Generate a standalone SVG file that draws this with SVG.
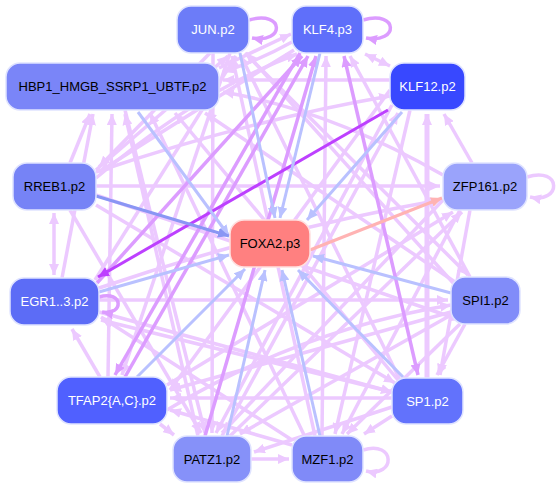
<svg xmlns="http://www.w3.org/2000/svg" width="557" height="489" viewBox="0 0 557 489">
<defs>
<style>
.e{fill:none;stroke-width:3.5}
.p{stroke:#ecc9ff}
.m{stroke:#dc9cff}
.s{stroke:#bd40ff;stroke-width:3}
.b{stroke:#b9c1ff;stroke-width:3}
.db{stroke:#8a96f4;stroke-width:3}
.r{stroke:#ffb3b3;stroke-width:3}
.n rect{stroke:#dfe3ff;stroke-width:1.5}
.n text{font-family:"Liberation Sans",Arial,sans-serif;font-size:13px;text-anchor:middle}
.w{fill:#ffffff}
.k{fill:#000000}
</style>
<marker id="ap" markerUnits="userSpaceOnUse" markerWidth="12" markerHeight="10" refX="11" refY="5" orient="auto-start-reverse"><path d="M0,0 L11,5 L0,10 z" fill="#ecc9ff"/></marker>
<marker id="am" markerUnits="userSpaceOnUse" markerWidth="12" markerHeight="10" refX="11" refY="5" orient="auto-start-reverse"><path d="M0,0 L11,5 L0,10 z" fill="#dc9cff"/></marker>
<marker id="as" markerUnits="userSpaceOnUse" markerWidth="12" markerHeight="10" refX="11" refY="5" orient="auto-start-reverse"><path d="M0,0 L11,5 L0,10 z" fill="#bd40ff"/></marker>
<marker id="ab" markerUnits="userSpaceOnUse" markerWidth="12" markerHeight="10" refX="11" refY="5" orient="auto-start-reverse"><path d="M0,0 L11,5 L0,10 z" fill="#b9c1ff"/></marker>
<marker id="adb" markerUnits="userSpaceOnUse" markerWidth="12" markerHeight="10" refX="11" refY="5" orient="auto-start-reverse"><path d="M0,0 L11,5 L0,10 z" fill="#8a96f4"/></marker>
<marker id="ar" markerUnits="userSpaceOnUse" markerWidth="12" markerHeight="10" refX="11" refY="5" orient="auto-start-reverse"><path d="M0,0 L11,5 L0,10 z" fill="#ffb3b3"/></marker>
</defs>
<rect width="557" height="489" fill="#ffffff"/>
<g id="edges">
<g class="e p" marker-end="url(#ap)">
<path d="M390,80 L223,80"/>
<path d="M443,175 Q330,110 223,92"/>
<path d="M455,282 L205,113"/>
<path d="M398,380 L175,113"/>
<path d="M305,437 L150,113"/>
<path d="M198,436 L125,114"/>
<path d="M108,377 L112,114"/>
<path d="M62,278 L93,114"/>
<path d="M70,163 L90,114"/>
<path d="M292,42 Q260,60 223,72"/>
<path d="M96,170 L228,56"/>
<path d="M95,280 L236,56"/>
<path d="M455,285 L246,53"/>
<path d="M400,380 L241,56"/>
<path d="M315,436 L232,56"/>
<path d="M219,68 L291,34"/>
<path d="M96,178 Q200,90 297,54"/>
<path d="M322,436 L326,56"/>
<path d="M470,277 L350,56"/>
<path d="M427,378 L427,114" style="stroke-width:5"/>
<path d="M472,163 L444,114"/>
<path d="M96,172 Q250,120 390,96"/>
<path d="M96,186 L440,186"/>
<path d="M99,288 Q270,230 440,200"/>
<path d="M99,300 L448,300"/>
<path d="M245,53 L468,275"/>
<path d="M470,210 L440,375"/>
<path d="M465,324 L437,375"/>
<path d="M96,205 L395,383"/>
<path d="M99,312 L392,392"/>
<path d="M392,398 L170,398"/>
<path d="M451,312 L170,390"/>
<path d="M392,416 L364,434"/>
<path d="M392,407 L254,452"/>
<path d="M460,324 L347,434"/>
<path d="M460,210 L342,434"/>
<path d="M410,110 L335,434"/>
<path d="M251,459 L289,459"/>
<path d="M292,445 L170,410"/>
<path d="M292,440 L101,317"/>
<path d="M125,110 L205,433"/>
<path d="M70,210 L201,433"/>
<path d="M213,53 L212,433"/>
<path d="M392,105 L216,433"/>
<path d="M443,200 L222,433"/>
<path d="M451,315 L240,434"/>
<path d="M160,424 L174,435"/>
<path d="M100,377 L72,329"/>
<path d="M230,53 L122,375"/>
<path d="M392,392 L101,320"/>
<path d="M210,53 L99,167"/>
<path d="M294,50 Q180,120 99,172"/>
<path d="M167,385 L453,212"/>
<path d="M230,436 L462,212"/>
<path d="M222,436 L398,113"/>
<path d="M390,90 L170,390"/>
<path d="M96,195 L460,320"/>
<path d="M167,410 Q300,330 451,305"/>
</g>
<path class="e p" d="M54,213 L54,275" marker-start="url(#ap)" marker-end="url(#ap)"/>
<path class="e p" d="M390,66 L365,54" marker-start="url(#ap)" marker-end="url(#ap)"/>
<g class="e m" marker-end="url(#am)">
<path d="M97,283 L302,56"/>
<path d="M125,377 L308,56"/>
<path d="M205,436 L316,56"/>
<path d="M300,53 L115,375"/>
</g>
<path class="e m" d="M418,375 L344,56" marker-start="url(#am)" marker-end="url(#am)"/>
<g class="e m" marker-end="url(#am)">
<path d="M249,20 C285,10 285,44 252,38"/>
<path d="M363,20 C399,10 399,44 366,38"/>
<path d="M99,297 C124,290 124,316 102,312"/>
</g>
<g class="e p" marker-end="url(#ap)">
<path d="M527,177 C562,166 562,204 530,197"/>
<path d="M363,450 C396,440 396,478 366,471"/>
</g>
<path class="e s" d="M388,110 L98,277" marker-end="url(#as)"/>
<g class="e b" marker-end="url(#ab)">
<path d="M240,53 L275,218"/>
<path d="M138,112 L229,236"/>
<path d="M320,53 L280,218"/>
<path d="M402,112 L307,220"/>
<path d="M99,292 L229,255"/>
<path d="M137,377 L245,269"/>
<path d="M227,436 L265,270"/>
<path d="M320,436 L282,270"/>
<path d="M403,377 L298,270"/>
<path d="M451,293 L313,256"/>
</g>
<path class="e db" d="M96,196 L229,236" marker-end="url(#adb)"/>
<path class="e r" d="M310,250 L442,198" marker-end="url(#ar)"/>
</g>
<g id="JUN" class="n"><rect x="177" y="6" width="72" height="47" rx="14" fill="#6c7cf8"/><text x="213" y="34" class="w">JUN.p2</text></g>
<g id="KLF4" class="n"><rect x="292" y="6" width="71" height="47" rx="14" fill="#5f6ffa"/><text x="327.5" y="34" class="w">KLF4.p3</text></g>
<g id="HBP1" class="n"><rect x="6" y="63" width="213" height="47" rx="14" fill="#7a85f8"/><text x="112.5" y="91" class="k">HBP1_HMGB_SSRP1_UBTF.p2</text></g>
<g id="KLF12" class="n"><rect x="390" y="63" width="75" height="47" rx="14" fill="#3848ff"/><text x="427.5" y="91" class="w">KLF12.p2</text></g>
<g id="RREB1" class="n"><rect x="13" y="163" width="83" height="47" rx="14" fill="#7683f6"/><text x="54.5" y="191" class="k">RREB1.p2</text></g>
<g id="ZFP161" class="n"><rect x="443" y="163" width="84" height="47" rx="14" fill="#9aa3fb"/><text x="485" y="191" class="k">ZFP161.p2</text></g>
<g id="FOXA2" class="n"><rect x="230" y="220" width="80" height="47" rx="14" fill="#ff8080" style="stroke:#ffe0e0"/><text x="270" y="248" class="k">FOXA2.p3</text></g>
<g id="EGR1" class="n"><rect x="10" y="278" width="89" height="47" rx="14" fill="#5c6cf6"/><text x="54.5" y="306" class="w">EGR1..3.p2</text></g>
<g id="SPI1" class="n"><rect x="451" y="277" width="69" height="47" rx="14" fill="#818cf9"/><text x="485.5" y="305" class="k">SPI1.p2</text></g>
<g id="TFAP2" class="n"><rect x="57" y="377" width="110" height="47" rx="14" fill="#5060ff"/><text x="112" y="405" class="w">TFAP2{A,C}.p2</text></g>
<g id="SP1" class="n"><rect x="392" y="378" width="71" height="46" rx="14" fill="#6272fc"/><text x="427.5" y="406" class="w">SP1.p2</text></g>
<g id="PATZ1" class="n"><rect x="173" y="436" width="78" height="46" rx="14" fill="#8691f9"/><text x="212" y="464" class="k">PATZ1.p2</text></g>
<g id="MZF1" class="n"><rect x="292" y="436" width="71" height="46" rx="14" fill="#808af8"/><text x="327.5" y="464" class="k">MZF1.p2</text></g>
</svg>
